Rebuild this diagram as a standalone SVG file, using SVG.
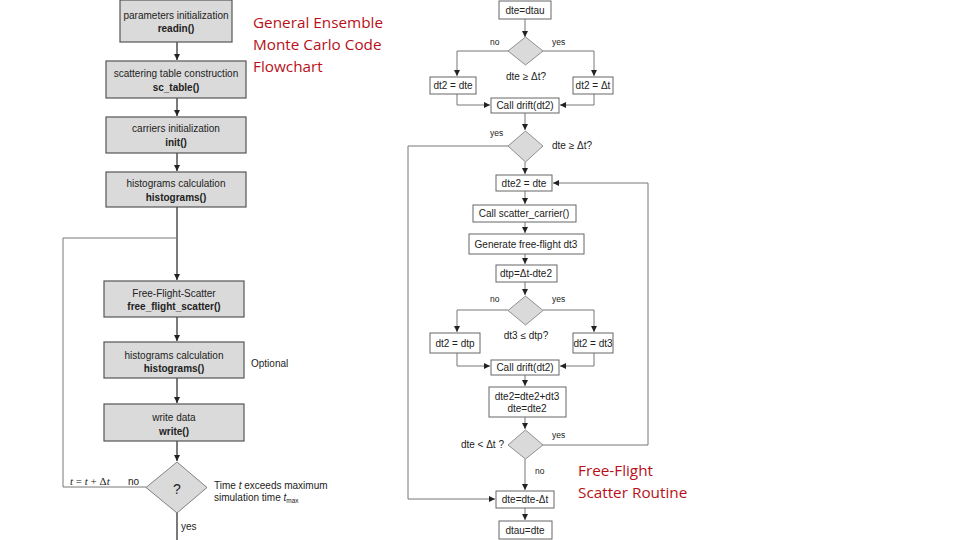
<svg xmlns="http://www.w3.org/2000/svg" width="960" height="540" viewBox="0 0 960 540">
<defs>
<marker id="ah" markerWidth="6" markerHeight="6" refX="6" refY="3" orient="auto" markerUnits="userSpaceOnUse"><path d="M0,0 L6,3 L0,6 z" fill="#222"/></marker>
<style>
.lb{fill:#dadada;stroke:#555;stroke-width:1.2}
.rb{fill:#fff;stroke:#666;stroke-width:1}
.dm{fill:#dadada;stroke:#777;stroke-width:0.8}
.ln{fill:none;stroke:#222;stroke-width:1.2}
.lg{fill:none;stroke:#777;stroke-width:1}
.t{font-family:"Liberation Sans",Arial,sans-serif;font-size:10px;fill:#222;text-anchor:middle}
.b{font-weight:bold}
.s{font-family:"Liberation Sans",Arial,sans-serif;font-size:10px;fill:#222;text-anchor:middle}
.sm{font-family:"Liberation Sans",Arial,sans-serif;font-size:8.5px;fill:#222}
.red{font-family:"Open Sans","Liberation Sans",sans-serif;font-size:15.3px;fill:#b8101a}
</style>
</defs>
<rect width="960" height="540" fill="#fff"/>
<g id="connectors">
<path class="ln" d="M177,42 V60" marker-end="url(#ah)"/>
<path class="ln" d="M177,98 V116" marker-end="url(#ah)"/>
<path class="ln" d="M177,153 V171" marker-end="url(#ah)"/>
<path class="ln" d="M177,207 V280" marker-end="url(#ah)"/>
<path class="lg" d="M146,487 H63 V238 H177"/>
<path class="ln" d="M177,317 V341" marker-end="url(#ah)"/>
<path class="ln" d="M177,378 V403" marker-end="url(#ah)"/>
<path class="ln" d="M177,441 V461" marker-end="url(#ah)"/>
<path class="ln" d="M177,513 V540"/>
<path class="lg" d="M525,19 V37" marker-end="url(#ah)"/>
<path class="lg" d="M508,51 H457 V76" marker-end="url(#ah)"/>
<path class="lg" d="M543,51 H594 V76" marker-end="url(#ah)"/>
<path class="lg" d="M457,94 V105 H490" marker-end="url(#ah)"/>
<path class="lg" d="M594,94 V105 H560" marker-end="url(#ah)"/>
<path class="lg" d="M525,113 V130" marker-end="url(#ah)"/>
<path class="lg" d="M508,146 H408 V499 H495" marker-end="url(#ah)"/>
<path class="lg" d="M525,162 V174" marker-end="url(#ah)"/>
<path class="lg" d="M543,445 H648 V183 H553" marker-end="url(#ah)"/>
<path class="lg" d="M525,191 V204" marker-end="url(#ah)"/>
<path class="lg" d="M525,222 V233" marker-end="url(#ah)"/>
<path class="lg" d="M525,254 V264" marker-end="url(#ah)"/>
<path class="lg" d="M525,282 V295" marker-end="url(#ah)"/>
<path class="lg" d="M508,310 H457 V332" marker-end="url(#ah)"/>
<path class="lg" d="M543,310 H594 V332" marker-end="url(#ah)"/>
<path class="lg" d="M457,353 V366 H490" marker-end="url(#ah)"/>
<path class="lg" d="M594,353 V366 H560" marker-end="url(#ah)"/>
<path class="lg" d="M525,375 V386" marker-end="url(#ah)"/>
<path class="lg" d="M525,417 V429" marker-end="url(#ah)"/>
<path class="lg" d="M525,459 V490" marker-end="url(#ah)"/>
<path class="lg" d="M525,508 V520" marker-end="url(#ah)"/>
</g>
<g id="n_readin"><rect class="lb" x="120" y="0" width="112" height="42"/><text class="t" x="176" y="19">parameters initialization</text><text class="t b" x="176" y="32">readin()</text></g>
<g id="n_sctable"><rect class="lb" x="106" y="61" width="140" height="37"/><text class="t" x="176" y="77">scattering table construction</text><text class="t b" x="176" y="91">sc_table()</text></g>
<g id="n_init"><rect class="lb" x="106" y="117" width="140" height="36"/><text class="t" x="176" y="132">carriers initialization</text><text class="t b" x="176" y="146">init()</text></g>
<g id="n_hist1"><rect class="lb" x="106" y="172" width="140" height="35"/><text class="t" x="176" y="187">histograms calculation</text><text class="t b" x="176" y="201">histograms()</text></g>
<g id="n_ffs"><rect class="lb" x="104" y="281" width="140" height="36"/><text class="t" x="174" y="297">Free-Flight-Scatter</text><text class="t b" x="174" y="310">free_flight_scatter()</text></g>
<g id="n_hist2"><rect class="lb" x="104" y="342" width="140" height="36"/><text class="t" x="174" y="359">histograms calculation</text><text class="t b" x="174" y="372">histograms()</text><text class="t" x="251" y="367" style="text-anchor:start">Optional</text></g>
<g id="n_write"><rect class="lb" x="104" y="404" width="140" height="37"/><text class="t" x="174" y="421">write data</text><text class="t b" x="174" y="435">write()</text></g>
<g id="n_q"><path class="dm" d="M177,462 L207,487.5 L177,513 L146,487.5 z" style="stroke:#666"/><text class="t" x="177" y="494" style="font-size:14px">?</text>
<text class="t" x="70" y="485" style="text-anchor:start;font-family:'Liberation Serif',serif;font-size:11px"><tspan font-style="italic">t</tspan> = <tspan font-style="italic">t</tspan> + Δ<tspan font-style="italic">t</tspan></text>
<text class="t" x="128" y="485" style="text-anchor:start">no</text>
<text class="t" x="214" y="489" style="text-anchor:start">Time <tspan font-style="italic">t</tspan> exceeds maximum</text>
<text class="t" x="214" y="501" style="text-anchor:start">simulation time <tspan font-style="italic">t</tspan><tspan font-size="6.5" dy="2">max</tspan></text>
<text class="t" x="181" y="530" style="text-anchor:start">yes</text></g>
<g id="title1"><text class="red" x="253" y="28">General Ensemble</text><text class="red" x="253" y="50">Monte Carlo Code</text><text class="red" x="253" y="72">Flowchart</text></g>
<g id="r_dtau"><rect class="rb" x="499" y="1" width="52" height="18"/><text class="s" x="525" y="14">dte=dtau</text></g>
<g id="r_d1"><path class="dm" d="M525.5,37 L543,51 L525.5,65 L508,51 z"/><text class="sm" x="490" y="45">no</text><text class="sm" x="552" y="45">yes</text><text class="s" x="526" y="80">dte ≥ Δt?</text></g>
<g id="r_dt2a"><rect class="rb" x="430" y="77" width="46" height="17"/><text class="s" x="453" y="89">dt2 = dte</text></g>
<g id="r_dt2b"><rect class="rb" x="573" y="77" width="40" height="17"/><text class="s" x="593" y="89">dt2 = Δt</text></g>
<g id="r_drift1"><rect class="rb" x="491" y="98" width="68" height="15"/><text class="s" x="525" y="109">Call drift(dt2)</text></g>
<g id="r_d2"><path class="dm" d="M525.5,131 L543,146 L525.5,162 L508,146 z"/><text class="sm" x="490" y="136">yes</text><text class="s" x="552" y="149" style="text-anchor:start">dte ≥ Δt?</text></g>
<g id="r_dte2"><rect class="rb" x="496" y="175" width="56" height="16"/><text class="s" x="524" y="187">dte2 = dte</text></g>
<g id="r_scatter"><rect class="rb" x="473" y="205" width="103" height="17"/><text class="s" x="524" y="217">Call scatter_carrier()</text></g>
<g id="r_gen"><rect class="rb" x="469" y="234" width="115" height="20"/><text class="s" x="526" y="248">Generate free-flight dt3</text></g>
<g id="r_dtp"><rect class="rb" x="496" y="265" width="61" height="17"/><text class="s" x="526" y="277">dtp=Δt-dte2</text></g>
<g id="r_d3"><path class="dm" d="M525.5,296 L543,310.5 L525.5,325 L508,310.5 z"/><text class="sm" x="490" y="302">no</text><text class="sm" x="552" y="302">yes</text><text class="s" x="526" y="339">dt3 ≤ dtp?</text></g>
<g id="r_dt2c"><rect class="rb" x="430" y="333" width="50" height="20"/><text class="s" x="455" y="347">dt2 = dtp</text></g>
<g id="r_dt2d"><rect class="rb" x="573" y="333" width="40" height="20"/><text class="s" x="593" y="347">dt2 = dt3</text></g>
<g id="r_drift2"><rect class="rb" x="491" y="360" width="68" height="15"/><text class="s" x="525" y="371">Call drift(dt2)</text></g>
<g id="r_upd"><rect class="rb" x="489" y="387" width="77" height="30"/><text class="s" x="527" y="400">dte2=dte2+dt3</text><text class="s" x="527" y="412">dte=dte2</text></g>
<g id="r_d4"><path class="dm" d="M525.5,430 L543,445 L525.5,459 L508,445 z"/><text class="s" x="504" y="448" style="text-anchor:end">dte &lt; Δt ?</text><text class="sm" x="552" y="438">yes</text><text class="sm" x="535" y="474">no</text></g>
<g id="r_dtesub"><rect class="rb" x="496" y="491" width="58" height="17"/><text class="s" x="525" y="503">dte=dte-Δt</text></g>
<g id="r_dtau2"><rect class="rb" x="499" y="521" width="53" height="18"/><text class="s" x="525" y="534">dtau=dte</text></g>
<g id="title2"><text class="red" x="578" y="476">Free-Flight</text><text class="red" x="578" y="498">Scatter Routine</text></g>
</svg>
